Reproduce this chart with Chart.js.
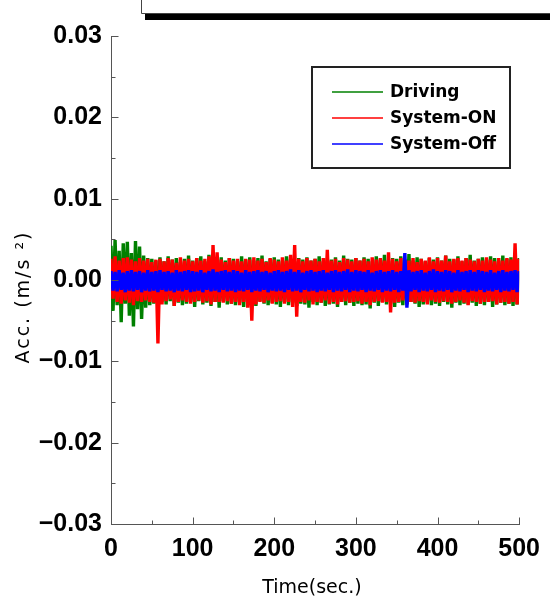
<!DOCTYPE html>
<html><head><meta charset="utf-8">
<script src="https://cdn.jsdelivr.net/npm/chart.js@4.4.0/dist/chart.umd.min.js"></script>
<style>html,body{margin:0;padding:0;background:#fff}#wrap{width:550px;height:598px}</style>
</head><body><div id="wrap"><canvas id="c" width="550" height="598"></canvas></div>
<script>
const times = [
0,2.5,5,7.5,10,12.5,15,17.5,20,22.5,25,27.5,30,32.5,35,37.5,40,42.5,45,47.5,
50,52.5,55,57.5,60,62.5,65,67.5,70,72.5,75,77.5,80,82.5,85,87.5,90,92.5,95,97.5,
100,102.5,105,107.5,110,112.5,115,117.5,120,122.5,125,127.5,130,132.5,135,137.5,140,142.5,145,147.5,
150,152.5,155,157.5,160,162.5,165,167.5,170,172.5,175,177.5,180,182.5,185,187.5,190,192.5,195,197.5,
200,202.5,205,207.5,210,212.5,215,217.5,220,222.5,225,227.5,230,232.5,235,237.5,240,242.5,245,247.5,
250,252.5,255,257.5,260,262.5,265,267.5,270,272.5,275,277.5,280,282.5,285,287.5,290,292.5,295,297.5,
300,302.5,305,307.5,310,312.5,315,317.5,320,322.5,325,327.5,330,332.5,335,337.5,340,342.5,345,347.5,
350,352.5,355,357.5,360,362.5,365,367.5,370,372.5,375,377.5,380,382.5,385,387.5,390,392.5,395,397.5,
400,402.5,405,407.5,410,412.5,415,417.5,420,422.5,425,427.5,430,432.5,435,437.5,440,442.5,445,447.5,
450,452.5,455,457.5,460,462.5,465,467.5,470,472.5,475,477.5,480,482.5,485,487.5,490,492.5,495,497.5,
500];
const driving = [
.0042,-.0038,.0049,-.0031,.0036,-.0052,.0045,-.0029,.0047,-.0044,.0033,-.0057,.0048,-.0036,.0041,-.0048,.0030,-.0034,.0027,-.0031,
.0026,-.0029,.0024,-.0033,.0028,-.0027,.0023,-.0030,.0029,-.0026,.0025,-.0032,.0027,-.0028,.0022,-.0031,.0026,-.0029,.0030,-.0027,
.0024,-.0033,.0027,-.0026,.0029,-.0030,.0023,-.0028,.0031,-.0032,.0026,-.0027,.0025,-.0034,.0028,-.0026,.0024,-.0030,.0027,-.0029,
.0026,-.0031,.0023,-.0028,.0029,-.0033,.0025,-.0027,.0028,-.0030,.0024,-.0032,.0027,-.0026,.0030,-.0029,.0023,-.0031,.0026,-.0028,
.0028,-.0030,.0025,-.0033,.0024,-.0027,.0029,-.0031,.0026,-.0028,.0023,-.0032,.0027,-.0029,.0025,-.0030,.0028,-.0034,.0024,-.0027,
.0026,-.0031,.0029,-.0028,.0023,-.0032,.0027,-.0030,.0025,-.0029,.0028,-.0033,.0024,-.0027,.0030,-.0031,.0026,-.0028,.0025,-.0032,
.0027,-.0029,.0024,-.0031,.0028,-.0030,.0026,-.0035,.0023,-.0028,.0029,-.0032,.0025,-.0027,.0031,-.0030,.0024,-.0029,.0027,-.0033,
.0026,-.0028,.0029,-.0031,.0025,-.0030,.0032,-.0027,.0024,-.0029,.0028,-.0033,.0026,-.0030,.0023,-.0028,.0027,-.0031,.0025,-.0029,
.0028,-.0032,.0024,-.0027,.0030,-.0030,.0026,-.0034,.0025,-.0028,.0029,-.0031,.0023,-.0029,.0027,-.0030,.0031,-.0028,.0024,-.0032,
.0026,-.0029,.0028,-.0031,.0025,-.0027,.0029,-.0033,.0027,-.0030,.0024,-.0028,.0030,-.0031,.0026,-.0029,.0028,-.0032,.0025,-.0030,
.0027];
const systemOn = [
.0026,-.0023,.0029,-.0027,.0024,-.0029,.0027,-.0025,.0028,-.0028,.0025,-.0031,.0023,-.0026,.0027,-.0027,.0024,-.0025,.0026,-.0027,
.0022,-.0028,.0025,-.0078,.0026,-.0030,.0023,-.0026,.0027,-.0024,.0025,-.0032,.0021,-.0027,.0028,-.0025,.0024,-.0027,.0026,-.0029,
.0023,-.0027,.0027,-.0025,.0024,-.0028,.0026,-.0026,.0029,-.0030,.0043,-.0027,.0034,-.0027,.0025,-.0028,.0022,-.0026,.0027,-.0029,
.0024,-.0027,.0026,-.0031,.0023,-.0027,.0026,-.0034,.0025,-.0050,.0028,-.0030,.0024,-.0027,.0026,-.0028,.0022,-.0025,.0027,-.0029,
.0025,-.0027,.0023,-.0026,.0028,-.0029,.0024,-.0027,.0031,-.0033,.0043,-.0045,.0026,-.0027,.0023,-.0028,.0027,-.0025,.0024,-.0030,
.0026,-.0027,.0023,-.0028,.0027,-.0025,.0037,-.0029,.0024,-.0027,.0026,-.0030,.0022,-.0027,.0027,-.0026,.0025,-.0028,.0023,-.0027,
.0027,-.0026,.0024,-.0029,.0026,-.0027,.0023,-.0031,.0028,-.0027,.0025,-.0026,.0027,-.0028,.0024,-.0027,.0034,-.0040,.0026,-.0028,
.0023,-.0027,.0027,-.0025,.0025,-.0029,.0024,-.0027,.0027,-.0028,.0022,-.0026,.0026,-.0027,.0024,-.0030,.0028,-.0025,.0023,-.0027,
.0027,-.0028,.0024,-.0026,.0030,-.0027,.0023,-.0029,.0026,-.0027,.0027,-.0025,.0024,-.0028,.0027,-.0031,.0025,-.0026,.0023,-.0027,
.0026,-.0029,.0024,-.0027,.0028,-.0027,.0025,-.0026,.0023,-.0030,.0027,-.0028,.0024,-.0027,.0027,-.0029,.0025,-.0027,.0045,-.0030,
.0026];
const systemOff = [
.0011,-.0013,.0010,-.0014,.0012,-.0012,.0009,-.0015,.0011,-.0013,.0012,-.0014,.0010,-.0012,.0011,-.0015,.0009,-.0013,.0012,-.0014,
.0010,-.0013,.0011,-.0015,.0012,-.0012,.0010,-.0014,.0011,-.0013,.0009,-.0015,.0012,-.0013,.0010,-.0014,.0011,-.0012,.0012,-.0015,
.0011,-.0014,.0010,-.0013,.0012,-.0015,.0009,-.0012,.0011,-.0014,.0013,-.0013,.0010,-.0015,.0011,-.0012,.0012,-.0014,.0010,-.0013,
.0012,-.0015,.0011,-.0013,.0009,-.0014,.0012,-.0012,.0010,-.0015,.0011,-.0013,.0012,-.0014,.0010,-.0012,.0011,-.0015,.0009,-.0013,
.0011,-.0014,.0012,-.0013,.0010,-.0015,.0011,-.0012,.0013,-.0014,.0010,-.0013,.0012,-.0015,.0009,-.0012,.0011,-.0014,.0012,-.0013,
.0010,-.0015,.0011,-.0013,.0012,-.0014,.0009,-.0012,.0011,-.0015,.0012,-.0013,.0010,-.0014,.0011,-.0012,.0013,-.0015,.0010,-.0013,
.0012,-.0014,.0011,-.0012,.0010,-.0015,.0012,-.0013,.0009,-.0014,.0011,-.0012,.0012,-.0015,.0010,-.0013,.0011,-.0014,.0012,-.0012,
.0010,-.0015,.0011,-.0013,.0033,-.0034,.0012,-.0014,.0010,-.0012,.0011,-.0015,.0012,-.0013,.0009,-.0014,.0011,-.0012,.0013,-.0015,
.0011,-.0013,.0010,-.0014,.0012,-.0012,.0011,-.0015,.0009,-.0013,.0012,-.0014,.0010,-.0012,.0011,-.0015,.0012,-.0013,.0010,-.0014,
.0012,-.0012,.0011,-.0015,.0010,-.0013,.0012,-.0014,.0009,-.0012,.0011,-.0015,.0012,-.0013,.0010,-.0014,.0011,-.0012,.0012,-.0015,
.0011];
const seriesNames = ['Driving','System-ON','System-Off'];
const seriesColors = ['#008000','#ff0000','#0000ff'];
const xMajorTicks = [100,200,300,400,500];
const xMinorTicks = [50,150,250,350,450];
const yMajorTicks = [0.03,0.02,0.01,0,-0.01,-0.02];
const yMinorTicks = [0.025,0.015,0.005,-0.005,-0.015,-0.025];
const xTitle = 'Time(sec.)';
const yTitle = 'Acc. (m/s ²)';

function pts(vals){ return vals.map((v,i)=>({x:times[i], y:v})); }
const seriesData = [driving, systemOn, systemOff];

const decor = {
  id:'decor',
  beforeDraw(chart){
    const c = chart.ctx; c.save(); c.fillStyle='#fff'; c.fillRect(0,0,chart.width,chart.height); c.restore();
  },
  afterDraw(chart){
    const c = chart.ctx, x = chart.scales.x, y = chart.scales.y;
    c.save();
    c.strokeStyle = '#555'; c.lineWidth = 1;
    c.beginPath();
    const bot = Math.round(y.bottom) + 0.5, lft = Math.round(x.left) + 0.5;
    xMajorTicks.forEach(v=>{ const p=Math.round(x.getPixelForValue(v))+0.5; c.moveTo(p,bot); c.lineTo(p,bot-7); });
    xMinorTicks.forEach(v=>{ const p=Math.round(x.getPixelForValue(v))+0.5; c.moveTo(p,bot); c.lineTo(p,bot-4); });
    yMajorTicks.forEach(v=>{ const p=Math.round(y.getPixelForValue(v))+0.5; c.moveTo(lft,p); c.lineTo(lft+7,p); });
    yMinorTicks.forEach(v=>{ const p=Math.round(y.getPixelForValue(v))+0.5; c.moveTo(lft,p); c.lineTo(lft+4,p); });
    c.stroke();
    // legend
    c.strokeStyle = '#222'; c.lineWidth = 2;
    c.strokeRect(312,67,198,101);
    c.font = 'bold 17px "DejaVu Sans"'; c.textBaseline = 'middle'; c.textAlign='left'; c.fillStyle='#000';
    seriesNames.forEach((n,i)=>{
      const yy = 92 + 26*i;
      c.strokeStyle = seriesColors[i]; c.lineWidth = 1.5;
      c.beginPath(); c.moveTo(332,yy); c.lineTo(383,yy); c.stroke();
      c.fillText(n, 390, yy+1);
    });
    // axis titles
    c.fillStyle = '#000';
    c.font = '19px "DejaVu Sans"'; c.textAlign = 'center'; c.textBaseline = 'alphabetic';
    c.fillText(xTitle, 312, 593);
    c.save();
    c.translate(29, 297); c.rotate(-Math.PI/2);
    c.font = '19px "DejaVu Sans"';
    try { c.letterSpacing = '2px'; } catch(e) {}
    c.fillText(yTitle, 0, 0);
    c.restore();
    // top box
    c.fillStyle = '#000'; c.fillRect(145,14,405,6);
    c.strokeStyle = '#444'; c.lineWidth = 1;
    c.beginPath(); c.moveTo(141.5,0); c.lineTo(141.5,13.5); c.lineTo(550,13.5); c.stroke();
    c.restore();
  }
};

new Chart(document.getElementById('c'), {
  type: 'line',
  data: {
    datasets: seriesData.map((d,i)=>({
      label: seriesNames[i],
      data: pts(d),
      borderColor: seriesColors[i],
      backgroundColor: seriesColors[i],
      borderWidth: 3.4,
      borderJoinStyle: 'bevel',
      pointRadius: 0,
      tension: 0,
      fill: false,
      order: 3 - i
    }))
  },
  options: {
    responsive: false,
    animation: false,
    events: [],
    layout: { padding: { top: 36, right: 27, left: 0, bottom: 0 } },
    plugins: { legend: { display: false }, tooltip: { enabled: false }, title: { display: false } },
    scales: {
      x: {
        type: 'linear', min: 0, max: 500,
        grid: { display: false, drawTicks: false },
        border: { display: true, color: '#555', width: 1 },
        ticks: { stepSize: 100, color: '#000', padding: 10, maxRotation: 0,
          font: { family: '"Liberation Sans", Arial, sans-serif', size: 25, weight: 'bold' } },
        afterFit(s){ s.height = 74; }
      },
      y: {
        type: 'linear', min: -0.03, max: 0.03,
        grid: { display: false, drawTicks: false },
        border: { display: true, color: '#555', width: 1 },
        ticks: { stepSize: 0.01, color: '#000', padding: 9,
          font: { family: '"Liberation Sans", Arial, sans-serif', size: 25, weight: 'bold' },
          callback(v){ const r = Math.round(v*100)/100; return (r < 0 ? '\u2212' : '') + Math.abs(r).toFixed(2); } },
        afterFit(s){ s.width = 111; }
      }
    }
  },
  plugins: [decor]
});
</script>
</body></html>
